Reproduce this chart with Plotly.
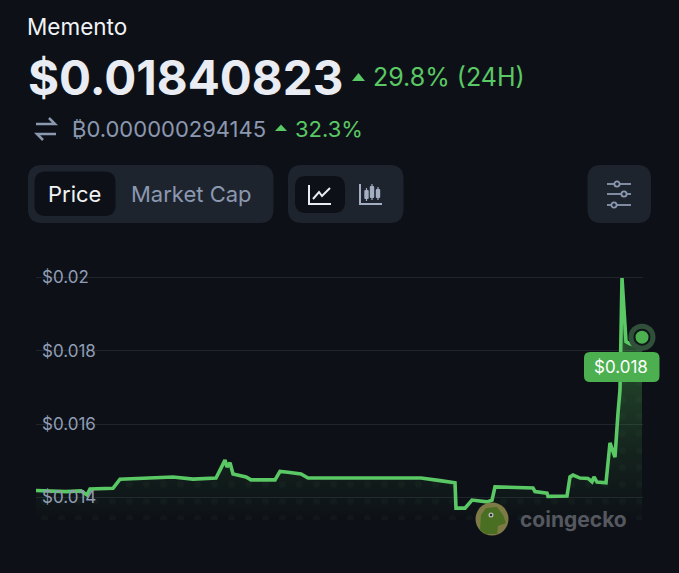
import plotly.graph_objects as go

W, H = 679, 573

# time steps along the chart (24h window)
steps = [0, 30, 45, 51, 54, 77, 84, 104, 137, 157, 180, 189, 191, 194, 197, 210, 215, 239, 244, 252,
         265, 272, 304, 385, 404, 419, 420, 429, 436, 451, 456, 459, 497, 499, 511, 512, 531, 534,
         537, 544, 552, 556, 558, 561, 570, 574, 579, 581, 582, 584, 586, 590, 594, 601, 603, 606]
prices = [0.01419, 0.01416, 0.01418, 0.01407, 0.01423, 0.01425, 0.01450, 0.01453, 0.01456, 0.01450,
          0.01453, 0.01502, 0.01483, 0.01495, 0.01464, 0.01456, 0.01448, 0.01448, 0.01471, 0.01469,
          0.01464, 0.01453, 0.01453, 0.01453, 0.01446, 0.01440, 0.01371, 0.01371, 0.01393, 0.01388,
          0.01393, 0.01429, 0.01426, 0.01416, 0.01412, 0.01403, 0.01404, 0.01456, 0.01461, 0.01453,
          0.01452, 0.01443, 0.01456, 0.01442, 0.01440, 0.01549, 0.01510, 0.01611, 0.01630, 0.01693,
          0.01998, 0.01825, 0.01819, 0.01813, 0.01816, 0.01837]
tick_vals = [0.014, 0.016, 0.018, 0.02]
tick_text = ["$0.014", "$0.016", "$0.018", "$0.02"]

BG = "#0d1117"
PANEL = "#1e242e"
GREEN = "#5ac864"
MUTED = "#8b98b0"
WHITE = "#e9ecf2"


def px(x):
    return x / W


def py(y):
    return 1 - y / H


def poly(points, close=True):
    s = "M " + " L ".join(f"{px(x):.5f},{py(y):.5f}" for x, y in points)
    return s + (" Z" if close else "")


def rrect(x0, y0, x1, y1, r):
    # rounded box as an svg path, corners are quadratic
    p = [
        f"M {px(x0 + r):.5f},{py(y0):.5f}",
        f"L {px(x1 - r):.5f},{py(y0):.5f}",
        f"Q {px(x1):.5f},{py(y0):.5f} {px(x1):.5f},{py(y0 + r):.5f}",
        f"L {px(x1):.5f},{py(y1 - r):.5f}",
        f"Q {px(x1):.5f},{py(y1):.5f} {px(x1 - r):.5f},{py(y1):.5f}",
        f"L {px(x0 + r):.5f},{py(y1):.5f}",
        f"Q {px(x0):.5f},{py(y1):.5f} {px(x0):.5f},{py(y1 - r):.5f}",
        f"L {px(x0):.5f},{py(y0 + r):.5f}",
        f"Q {px(x0):.5f},{py(y0):.5f} {px(x0 + r):.5f},{py(y0):.5f} Z",
    ]
    return " ".join(p)


shapes = []


def fill_shape(path, color):
    shapes.append(dict(type="path", xref="paper", yref="paper", path=path, fillcolor=color,
                       line=dict(width=0), layer="above"))


def stroke(points, color, width=2):
    shapes.append(dict(type="path", xref="paper", yref="paper", path=poly(points, close=False),
                       line=dict(color=color, width=width), layer="above"))


def circle(cx, cy, r, fill, line=None, width=0):
    shapes.append(dict(type="circle", xref="paper", yref="paper", x0=px(cx - r), x1=px(cx + r),
                       y0=py(cy + r), y1=py(cy - r), fillcolor=fill,
                       line=dict(color=line or fill, width=width), layer="above"))


# button panels
fill_shape(rrect(28, 165, 273.5, 223, 14), PANEL)
fill_shape(rrect(34.5, 171.5, 115.5, 216, 11), "#0d1117")
fill_shape(rrect(288, 165, 403.5, 223, 14), PANEL)
fill_shape(rrect(295, 176, 345, 213, 11), "#0d1117")
fill_shape(rrect(587.5, 165, 651, 223, 14), PANEL)

# change triangles
fill_shape(poly([(352, 81), (358.5, 73), (365, 81)]), GREEN)
fill_shape(poly([(275, 131), (281, 124.5), (287, 131)]), GREEN)

# swap arrows
stroke([(36, 124), (55, 124), (49, 118)], MUTED, 2.5)
stroke([(56, 134), (37, 134), (43, 140)], MUTED, 2.5)

# line chart icon
stroke([(309, 185), (309, 204), (331, 204)], WHITE, 2)
stroke([(313, 199), (319, 192), (322, 196), (330, 188)], WHITE, 2)

# candle icon
stroke([(360, 184), (360, 204), (382, 204)], "#a3aec2", 2)
for cx, top, bot in [(366.5, 188, 201), (372, 184, 200), (378, 187, 200)]:
    stroke([(cx, top), (cx, bot)], "#a3aec2", 1.2)
    fill_shape(rrect(cx - 2.2, top + 2, cx + 2.2, bot - 2, 1), "#a3aec2")

# sliders icon
for y, knob in [(184, 617), (194, 624), (205, 614)]:
    stroke([(607, y), (631, y)], MUTED, 1.8)
    circle(knob, y, 2.6, PANEL, MUTED, 1.8)

# price label box
fill_shape(rrect(584, 352, 659.5, 382, 6), "#4caf50")

# coingecko logo
circle(492, 519, 16.5, "#7d7a45")
fill_shape(poly([(480, 530), (481, 515), (486, 508), (497, 507), (503, 515), (506, 523), (498, 526),
                 (497, 534), (486, 534)]), "#4a6f22")
circle(491, 515, 2.5, "#b8beb8")
circle(491, 515, 1.2, "#23262a")

annotations = [
    dict(x=px(27), y=py(26), text="Memento", font=dict(size=22.5, color="#f1f3f6", family="Inter")),
    dict(x=px(28), y=py(77), text="<b>$0.01840823</b>", font=dict(size=47.5, color=WHITE, family="Inter")),
    dict(x=px(373), y=py(77), text="29.8% (24H)", font=dict(size=25, color=GREEN, family="Inter")),
    dict(x=px(72), y=py(129), text="₿0.000000294145", font=dict(size=22, color=MUTED, family="Inter")),
    dict(x=px(295), y=py(129), text="32.3%", font=dict(size=22, color=GREEN, family="Inter")),
    dict(x=px(48), y=py(194), text="Price", font=dict(size=22, color="#f1f3f6", family="Inter")),
    dict(x=px(131), y=py(194), text="Market Cap", font=dict(size=22, color=MUTED, family="Inter")),
    dict(x=px(594), y=py(367), text="$0.018", font=dict(size=17, color="#ffffff", family="Inter")),
    dict(x=px(520), y=py(519), text="<b>coingecko</b>", font=dict(size=21, color="#55585e", family="Inter")),
]
for a in annotations:
    a.update(xref="paper", yref="paper", xanchor="left", yanchor="middle", showarrow=False, borderpad=0, borderwidth=0)

fig = go.Figure()

# soft green area under the line, strongest near the top
fig.add_trace(go.Scatter(
    x=steps, y=prices, mode="none", fill="tozeroy",
    fillgradient=dict(type="vertical", start=0.0185, stop=0.0134,
                      colorscale=[[0, "rgba(76,175,80,0.42)"], [0.65, "rgba(76,175,80,0.11)"], [1, "rgba(76,175,80,0)"]]),
    hoverinfo="skip", showlegend=False))
# dotted texture in the area
fig.add_trace(go.Scatter(
    x=steps, y=prices, mode="none", fill="tozeroy", fillcolor="rgba(0,0,0,0)",
    fillpattern=dict(shape=".", size=17, solidity=0.12, fgcolor="rgba(110,190,120,0.07)", bgcolor="rgba(0,0,0,0)"),
    hoverinfo="skip", showlegend=False))
fig.add_trace(go.Scatter(x=steps, y=prices, mode="lines", line=dict(color=GREEN, width=3.6),
                         hoverinfo="skip", showlegend=False))
# end point marker
fig.add_trace(go.Scatter(x=steps[-1:], y=prices[-1:], mode="markers", cliponaxis=False,
                         marker=dict(size=27, color="#30503a"), hoverinfo="skip", showlegend=False))
fig.add_trace(go.Scatter(x=steps[-1:], y=prices[-1:], mode="markers", cliponaxis=False,
                         marker=dict(size=15, color="#4caf50", line=dict(color="#10161a", width=2)),
                         hoverinfo="skip", showlegend=False))

fig.update_layout(
    width=W, height=H, margin=dict(l=0, r=0, t=0, b=0),
    paper_bgcolor=BG, plot_bgcolor=BG, font=dict(family="Inter"),
    shapes=shapes, annotations=annotations,
    xaxis=dict(domain=[36 / W, 643 / W], range=[0, 607], visible=False, fixedrange=True),
    yaxis=dict(domain=[1 - 520 / H, 1 - 255 / H], range=[0.013387, 0.020608], tickvals=tick_vals,
               ticktext=tick_text, ticklabelposition="inside", ticklabelstandoff=3, ticks="", showline=False,
               zeroline=False, gridcolor="#20252d", gridwidth=1,
               tickfont=dict(size=17, color="#909db5", family="Inter")),
)

# page has a default 8px body margin, drop it
fig.write_html("out.html", config=dict(displayModeBar=False),
               post_script="document.body.style.margin='0';document.body.style.background='#0d1117';")
